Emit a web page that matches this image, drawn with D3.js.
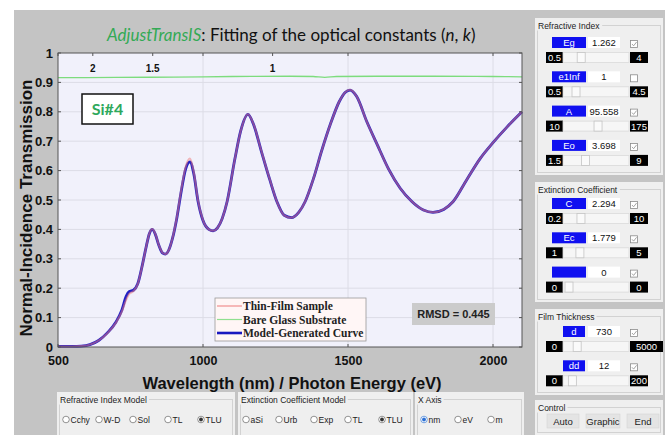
<!DOCTYPE html>
<html>
<head>
<meta charset="utf-8">
<script src="https://cdn.jsdelivr.net/npm/d3@7"></script>
<style>
  html, body { margin: 0; padding: 0; background: #ffffff; }
  svg { display: block; }
</style>
</head>
<body>
<svg id="app" width="665" height="435"></svg>
<script>
// ---- Spectra (wavelength in nm, normal-incidence transmission) ----
const wavelengthNm = [500, 550, 580, 610, 640, 670, 700, 720, 735, 745, 760, 775, 790, 805, 815, 825, 835, 848, 860, 870,
  882, 895, 910, 925, 940, 955, 968, 983, 1000, 1020, 1035, 1050, 1083, 1110, 1130, 1155, 1175, 1200, 1230, 1255,
  1280, 1305, 1330, 1352, 1380, 1410, 1440, 1470, 1490, 1507, 1530, 1565, 1600, 1640, 1680, 1721, 1760, 1793, 1830, 1862,
  1910, 1955, 2000, 2048, 2100];
const sampleT = [0.002, 0.002, 0.003, 0.008, 0.022, 0.047, 0.083, 0.120, 0.160, 0.180, 0.190, 0.214, 0.274, 0.345, 0.386, 0.401, 0.386, 0.346, 0.321, 0.316,
  0.330, 0.371, 0.442, 0.535, 0.612, 0.641, 0.596, 0.497, 0.431, 0.400, 0.395, 0.405, 0.494, 0.640, 0.735, 0.792, 0.756, 0.671, 0.571, 0.494,
  0.448, 0.440, 0.458, 0.494, 0.570, 0.670, 0.760, 0.835, 0.866, 0.875, 0.852, 0.766, 0.690, 0.605, 0.540, 0.494, 0.466, 0.458, 0.468, 0.494,
  0.570, 0.640, 0.695, 0.748, 0.800];
const modelT = [0.002, 0.002, 0.003, 0.008, 0.022, 0.048, 0.085, 0.125, 0.172, 0.188, 0.193, 0.215, 0.275, 0.345, 0.385, 0.400, 0.385, 0.345, 0.320, 0.316,
  0.330, 0.370, 0.440, 0.530, 0.605, 0.630, 0.590, 0.495, 0.430, 0.400, 0.395, 0.405, 0.494, 0.640, 0.735, 0.791, 0.755, 0.670, 0.570, 0.494,
  0.448, 0.440, 0.458, 0.494, 0.570, 0.670, 0.760, 0.835, 0.866, 0.874, 0.852, 0.766, 0.690, 0.605, 0.540, 0.494, 0.466, 0.458, 0.468, 0.494,
  0.570, 0.640, 0.695, 0.748, 0.800];
const substrateNm = [500, 700, 900, 1100, 1300, 1380, 1420, 1460, 1600, 1800, 2000, 2100];
const substrateT = [0.916, 0.917, 0.918, 0.920, 0.921, 0.920, 0.917, 0.920, 0.921, 0.921, 0.920, 0.919];

// ---- Axis ticks ----
const yTicks = [0, 0.1, 0.2, 0.3, 0.4, 0.5, 0.6, 0.7, 0.8, 0.9, 1];
const xTicks = [500, 1000, 1500, 2000];
const eVTicks = [2, 1.5, 1];

// ---- Texts ----
const titleApp = "AdjustTransIS";
const titleRest = ": Fitting of the optical constants (";
const sampleTag = "Si#4";
const legendLabels = ["Thin-Film Sample", "Bare Glass Substrate", "Model-Generated Curve"];
const rmsdText = "RMSD = 0.445";

// ---- Control panels ----
const refractiveParams = [
  { name: "Eg", value: 1.262, text: "1.262", min: 0.5, max: 4, checked: true },
  { name: "e1Inf", value: 1, text: "1", min: 0.5, max: 4.5, checked: false },
  { name: "A", value: 95.558, text: "95.558", min: 10, max: 175, checked: true },
  { name: "Eo", value: 3.698, text: "3.698", min: 1.5, max: 9, checked: true }
];
const extinctionParams = [
  { name: "C", value: 2.294, text: "2.294", min: 0.2, max: 10, checked: true },
  { name: "Ec", value: 1.779, text: "1.779", min: 1, max: 5, checked: true },
  { name: "", value: 0, text: "0", min: 0, max: 0, checked: true }
];
const thicknessParams = [
  { name: "d", value: 730, text: "730", min: 0, max: 5000, checked: true },
  { name: "dd", value: 12, text: "12", min: 0, max: 200, checked: true }
];
const controlButtons = ["Auto", "Graphic", "End"];
const refractiveModels = ["Cchy", "W-D", "Sol", "TL", "TLU"];
const extinctionModels = ["aSi", "Urb", "Exp", "TL", "TLU"];
const xAxisModes = ["nm", "eV", "m"];

const SANS = "'Liberation Sans', Arial, sans-serif";
const SERIF = "'Liberation Serif', 'Times New Roman', serif";
const HUMAN = "Lato, 'Open Sans', sans-serif";

const svg = d3.select("#app");

// Window background
svg.append("rect").attr("x", 14).attr("y", 10).attr("width", 651).attr("height", 425).attr("fill", "#c4c4c4");

// ---- Plot ----
const plot = { left: 58, right: 522, top: 53, bottom: 347 };
const x = d3.scaleLinear().domain([500, 2100]).range([plot.left, plot.right]);
const y = d3.scaleLinear().domain([0, 1]).range([plot.bottom, plot.top]);

svg.append("rect")
  .attr("x", plot.left).attr("y", plot.top)
  .attr("width", plot.right - plot.left).attr("height", plot.bottom - plot.top)
  .attr("fill", "#f1f1fb");

// grid
svg.append("g").selectAll("line").data(yTicks.slice(1, -1)).join("line")
  .attr("x1", plot.left).attr("x2", plot.right)
  .attr("y1", d => y(d)).attr("y2", d => y(d))
  .attr("stroke", "#dcdce6").attr("stroke-width", 1);
svg.append("g").selectAll("line").data(xTicks.slice(1)).join("line")
  .attr("y1", plot.top).attr("y2", plot.bottom)
  .attr("x1", d => x(d)).attr("x2", d => x(d))
  .attr("stroke", "#dcdce6").attr("stroke-width", 1);

// Curves
const line = d3.line().curve(d3.curveMonotoneX);
const substratePts = substrateNm.map((d, i) => [x(d), y(substrateT[i])]);
const modelPts = wavelengthNm.map((d, i) => [x(d), y(modelT[i])]);
const samplePts = wavelengthNm.map((d, i) => [x(d), y(sampleT[i])]);

svg.append("path").attr("d", line(substratePts)).attr("fill", "none")
  .attr("stroke", "#7ddc7d").attr("stroke-width", 1.3);
svg.append("path").attr("d", line(modelPts)).attr("fill", "none")
  .attr("stroke", "#2020c4").attr("stroke-width", 2.8);
svg.append("path").attr("d", line(samplePts)).attr("fill", "none")
  .attr("stroke", "#f07a7a").attr("stroke-width", 2).attr("stroke-opacity", 0.5);

// Axis ticks (inward, on all four sides)
const tickG = svg.append("g").attr("stroke", "#555").attr("stroke-width", 1);
yTicks.forEach(v => {
  tickG.append("line").attr("x1", plot.left).attr("x2", plot.left + 3).attr("y1", y(v)).attr("y2", y(v));
  tickG.append("line").attr("x1", plot.right).attr("x2", plot.right - 3).attr("y1", y(v)).attr("y2", y(v));
});
xTicks.forEach(v => {
  tickG.append("line").attr("x1", x(v)).attr("x2", x(v)).attr("y1", plot.bottom).attr("y2", plot.bottom - 3);
  tickG.append("line").attr("x1", x(v)).attr("x2", x(v)).attr("y1", plot.top).attr("y2", plot.top + 3);
});
eVTicks.forEach(v => {
  tickG.append("line").attr("x1", x(1240 / v)).attr("x2", x(1240 / v)).attr("y1", plot.top).attr("y2", plot.top + 3);
});

// frame
svg.append("rect")
  .attr("x", plot.left).attr("y", plot.top)
  .attr("width", plot.right - plot.left).attr("height", plot.bottom - plot.top)
  .attr("fill", "none").attr("stroke", "#555").attr("stroke-width", 1);

// Y axis labels
const yAxis = d3.axisLeft(y).tickValues(yTicks).tickSize(0).tickPadding(5)
  .tickFormat(d => d === 0 || d === 1 ? d3.format("d")(d) : d3.format(".1f")(d));
svg.append("g").attr("transform", `translate(${plot.left},0)`).call(yAxis)
  .call(g => g.select(".domain").remove())
  .selectAll("text").attr("font-family", SANS).attr("font-weight", "bold").attr("font-size", 13).attr("fill", "#111");

// X axis labels
const xAxis = d3.axisBottom(x).tickValues(xTicks).tickSize(0).tickPadding(9).tickFormat(d3.format("d"));
svg.append("g").attr("transform", `translate(0,${plot.bottom})`).call(xAxis)
  .call(g => g.select(".domain").remove())
  .selectAll("text").attr("font-family", SANS).attr("font-weight", "bold").attr("font-size", 12.5).attr("fill", "#111");

// eV labels along the top
svg.append("g").selectAll("text").data(eVTicks).join("text")
  .attr("x", d => x(1240 / d)).attr("y", 72)
  .attr("text-anchor", "middle")
  .attr("font-family", SANS).attr("font-weight", "bold").attr("font-size", 10).attr("fill", "#111")
  .text(d => d);

// Axis titles
svg.append("text").attr("x", 292).attr("y", 389).attr("text-anchor", "middle")
  .attr("font-family", SANS).attr("font-weight", "bold").attr("font-size", 16.5).attr("fill", "#111")
  .text("Wavelength (nm) / Photon Energy (eV)");
svg.append("text").attr("transform", "translate(32,208) rotate(-90)").attr("text-anchor", "middle")
  .attr("font-family", SANS).attr("font-weight", "bold").attr("font-size", 17).attr("fill", "#111")
  .text("Normal-Incidence Transmission");

// Title
const title = svg.append("text").attr("x", 107).attr("y", 41)
  .attr("font-family", HUMAN).attr("font-size", 17).attr("fill", "#111");
title.append("tspan").attr("fill", "#33aa55").attr("font-style", "italic").text(titleApp);
title.append("tspan").text(titleRest);
title.append("tspan").attr("font-style", "italic").text("n");
title.append("tspan").text(", ");
title.append("tspan").attr("font-style", "italic").text("k");
title.append("tspan").text(")");

// Sample tag
svg.append("rect").attr("x", 82).attr("y", 94).attr("width", 51).attr("height", 30)
  .attr("fill", "#fff").attr("stroke", "#111").attr("stroke-width", 1.5);
svg.append("text").attr("x", 107.5).attr("y", 114.5).attr("text-anchor", "middle")
  .attr("font-family", HUMAN).attr("font-weight", "bold").attr("font-size", 16).attr("fill", "#2fa85c")
  .text(sampleTag);

// Legend
const legendColors = ["#f09090", "#90e090", "#1818c0"];
const legendWidths = [1.2, 1.2, 2.6];
const lg = svg.append("g");
lg.append("rect").attr("x", 215).attr("y", 298).attr("width", 151).attr("height", 43)
  .attr("fill", "#fff6f6").attr("stroke", "#999").attr("stroke-width", 0.8);
legendLabels.forEach((t, i) => {
  const yy = 306 + i * 13.5;
  lg.append("line").attr("x1", 217).attr("x2", 242).attr("y1", yy).attr("y2", yy)
    .attr("stroke", legendColors[i]).attr("stroke-width", legendWidths[i]);
  lg.append("text").attr("x", 243).attr("y", yy + 4)
    .attr("font-family", SERIF).attr("font-weight", "bold").attr("font-size", 11.5).attr("fill", "#222")
    .text(t);
});

// RMSD box
svg.append("rect").attr("x", 412).attr("y", 303).attr("width", 83).attr("height", 22).attr("fill", "#cbcbcb");
svg.append("text").attr("x", 453.5).attr("y", 318).attr("text-anchor", "middle")
  .attr("font-family", SANS).attr("font-weight", "bold").attr("font-size", 11).attr("fill", "#222")
  .text(rmsdText);

// ---- Group boxes ----
function groupBox(x0, y0, w, h, label) {
  const g = svg.append("g");
  g.append("rect").attr("x", x0).attr("y", y0).attr("width", w).attr("height", h).attr("fill", "#efefef");
  g.append("rect").attr("x", x0 + 2.5).attr("y", y0 + 7.5).attr("width", w - 5).attr("height", h - 10)
    .attr("fill", "none").attr("stroke", "#d2d2d2").attr("stroke-width", 1);
  const t = g.append("text").attr("x", x0 + 3).attr("y", y0 + 10.5)
    .attr("font-family", SANS).attr("font-size", 8.5).attr("fill", "#222").text(label);
  const bb = t.node().getBBox();
  g.insert("rect", "text").attr("x", bb.x - 1).attr("y", bb.y).attr("width", bb.width + 3).attr("height", bb.height)
    .attr("fill", "#efefef");
  return g;
}

function paramRows(g, params, top, labelX, labelW) {
  params.forEach((p, i) => {
    const yy = top + i * 34.3;
    g.append("rect").attr("x", labelX).attr("y", yy).attr("width", labelW).attr("height", 11).attr("fill", "#1010f0");
    g.append("text").attr("x", labelX + labelW / 2).attr("y", yy + 9).attr("text-anchor", "middle")
      .attr("font-family", SANS).attr("font-size", 9.5).attr("fill", "#fff").text(p.name);
    g.append("rect").attr("x", 588).attr("y", yy).attr("width", 32).attr("height", 11).attr("fill", "#fff");
    g.append("text").attr("x", 604).attr("y", yy + 9).attr("text-anchor", "middle")
      .attr("font-family", SANS).attr("font-size", 9.5).attr("fill", "#111").text(p.text);
    // checkbox
    g.append("rect").attr("x", 630.5).attr("y", yy + 3.5).attr("width", 7).attr("height", 7)
      .attr("fill", "#fff").attr("stroke", "#8a8a8a").attr("stroke-width", 0.8);
    if (p.checked) {
      g.append("path").attr("d", `M${632},${yy + 7} l1.6,1.8 l3,-3.8`).attr("fill", "none")
        .attr("stroke", "#9a9a9a").attr("stroke-width", 0.9);
    }
    // slider
    const sy = yy + 15;
    const wide = String(p.max).length > 3;
    const maxW = wide ? 33 : 18;
    g.append("rect").attr("x", 546).attr("y", sy).attr("width", 17).attr("height", 11).attr("fill", "#000");
    g.append("text").attr("x", 554.5).attr("y", sy + 9).attr("text-anchor", "middle")
      .attr("font-family", SANS).attr("font-size", 9.5).attr("fill", "#fff").text(p.min);
    g.append("rect").attr("x", 630).attr("y", sy).attr("width", maxW).attr("height", 11).attr("fill", "#000");
    g.append("text").attr("x", 630 + maxW / 2).attr("y", sy + 9).attr("text-anchor", "middle")
      .attr("font-family", SANS).attr("font-size", 9.5).attr("fill", "#fff").text(p.max);
    g.append("rect").attr("x", 563).attr("y", sy + 0.5).attr("width", 66).attr("height", 10)
      .attr("fill", "#f6f6f6").attr("stroke", "#dadada").attr("stroke-width", 0.8);
    const s = d3.scaleLinear().domain([p.min, p.max === p.min ? p.min + 1 : p.max]).range([566, 622]).clamp(true);
    g.append("rect").attr("x", s(p.value) - 1).attr("y", sy + 0.5).attr("width", 8).attr("height", 10)
      .attr("fill", "#fafafa").attr("stroke", "#c4c4c4").attr("stroke-width", 0.8);
  });
}

const gRef = groupBox(535, 18, 128, 157, "Refractive Index");
paramRows(gRef, refractiveParams, 37, 552, 34);
const gExt = groupBox(535, 182, 128, 120, "Extinction Coefficient");
paramRows(gExt, extinctionParams, 198, 552, 34);
const gThk = groupBox(535, 309, 128, 86, "Film Thickness");
paramRows(gThk, thicknessParams, 326, 563, 22);
const gCtl = groupBox(535, 400, 128, 35, "Control");
controlButtons.forEach((b, i) => {
  const bx = [547, 586, 627][i], bw = [32, 34, 32][i];
  gCtl.append("rect").attr("x", bx).attr("y", 414).attr("width", bw).attr("height", 14)
    .attr("fill", "#e4e4e4").attr("stroke", "#d4d4d4").attr("stroke-width", 0.6);
  gCtl.append("text").attr("x", bx + bw / 2).attr("y", 424.5).attr("text-anchor", "middle")
    .attr("font-family", SANS).attr("font-size", 9.5).attr("fill", "#222").text(b);
});

// Radio groups along the bottom
function radioGroup(x0, w, label, options, positions, selected, blue) {
  const g = groupBox(x0, 392, w, 46, label);
  options.forEach((o, i) => {
    const cx = positions[i];
    g.append("circle").attr("cx", cx).attr("cy", 419.5).attr("r", 3.3)
      .attr("fill", "#fff").attr("stroke", i === selected && blue ? "#3a7bd5" : "#666").attr("stroke-width", 0.7);
    if (i === selected) {
      g.append("circle").attr("cx", cx).attr("cy", 419.5).attr("r", 1.9).attr("fill", blue ? "#2a6fd6" : "#333");
    }
    g.append("text").attr("x", cx + 4.5).attr("y", 422.5)
      .attr("font-family", SANS).attr("font-size", 8.5).attr("fill", "#222").text(o);
  });
}
radioGroup(57, 178, "Refractive Index Model", refractiveModels, [66, 99, 133, 168, 201], 4, false);
radioGroup(238, 175, "Extinction Coefficient Model", extinctionModels, [246, 279, 314, 348, 382], 4, false);
radioGroup(415, 109, "X Axis", xAxisModes, [424, 458, 491], 0, true);
</script>
</body>
</html>
